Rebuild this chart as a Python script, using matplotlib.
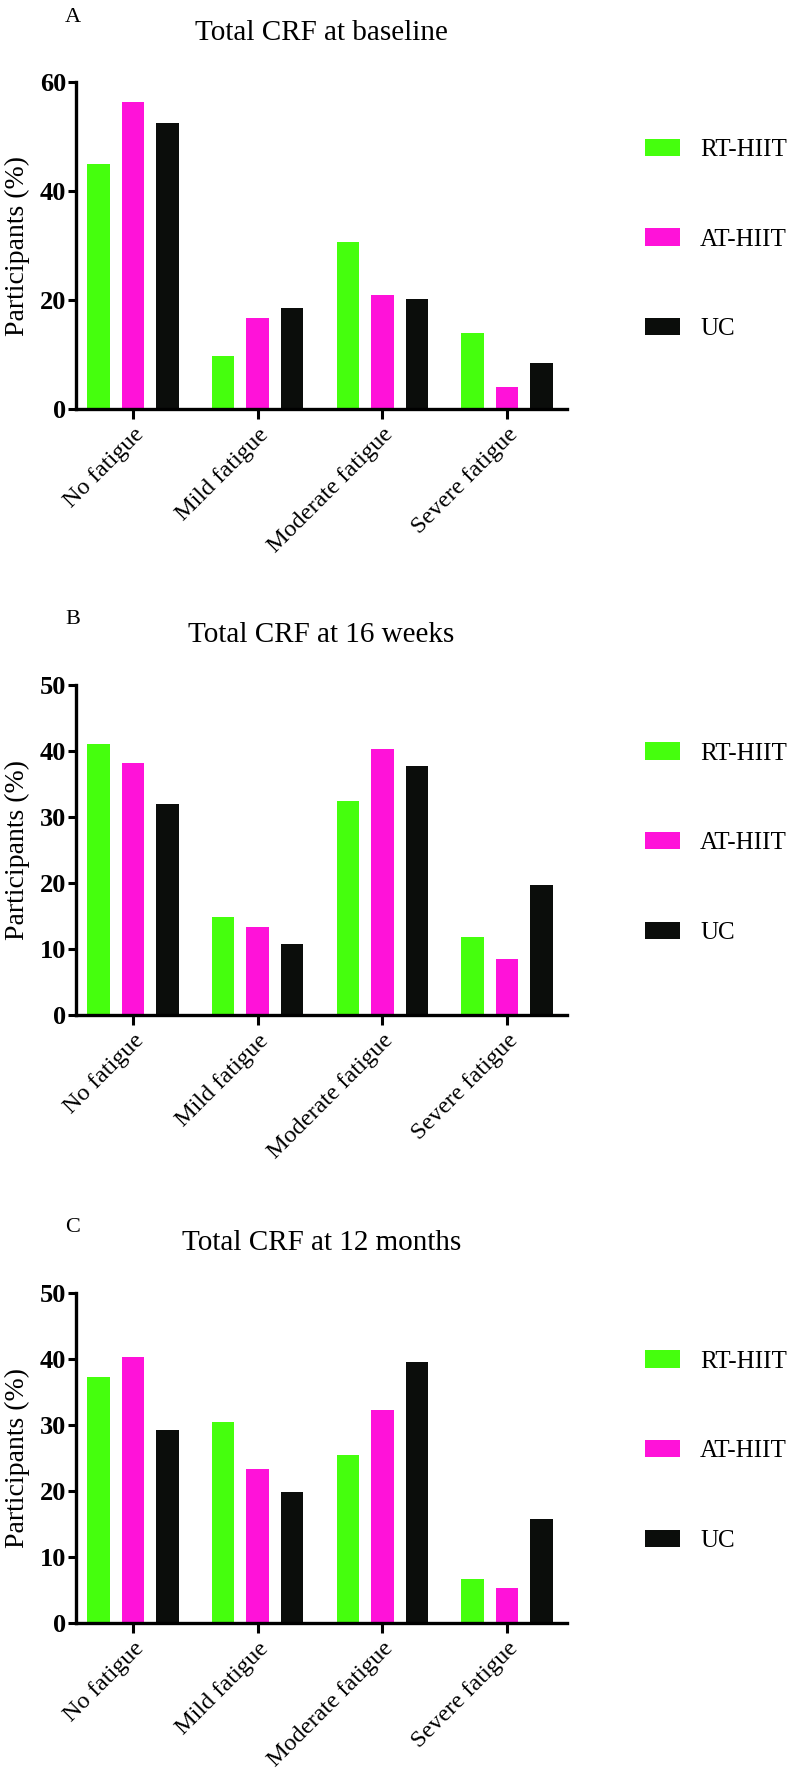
import matplotlib
matplotlib.use("Agg")
import matplotlib.pyplot as plt
import numpy as np

categories = ["No fatigue", "Mild fatigue", "Moderate fatigue", "Severe fatigue"]
groups = ["RT-HIIT", "AT-HIIT", "UC"]

baseline_rt = [45.0, 9.7, 30.7, 13.9]
baseline_at = [56.4, 16.7, 21.0, 4.1]
baseline_uc = [52.4, 18.6, 20.2, 8.4]

wk16_rt = [41.1, 14.8, 32.5, 11.8]
wk16_at = [38.2, 13.4, 40.3, 8.5]
wk16_uc = [32.0, 10.7, 37.7, 19.7]

mo12_rt = [37.2, 30.5, 25.5, 6.7]
mo12_at = [40.3, 23.3, 32.2, 5.3]
mo12_uc = [29.3, 19.9, 39.6, 15.8]

titles = ["Total CRF at baseline", "Total CRF at 16 weeks", "Total CRF at 12 months"]
letters = ["A", "B", "C"]
ymax = [60, 50, 50]
yticks = [[0, 20, 40, 60], [0, 10, 20, 30, 40, 50], [0, 10, 20, 30, 40, 50]]

colors = ["#45FF0D", "#FF12D9", "#0B0D0B"]

panels = [
    (baseline_rt, baseline_at, baseline_uc),
    (wk16_rt, wk16_at, wk16_uc),
    (mo12_rt, mo12_at, mo12_uc),
]

plt.rcParams['font.family'] = ['Liberation Serif', 'DejaVu Serif']

W, H = 799, 1777
fig = plt.figure(figsize=(W / 100, H / 100), dpi=100)

# axes geometry in pixels: (left, top, right, bottom)
ax_left, ax_right = 76, 567
tops = [82, 685, 1293]
bottoms = [409, 1015, 1623]

x = np.arange(len(categories))
bw = 0.18
off = 0.277

for i, (series, title, letter) in enumerate(zip(panels, titles, letters)):
    t, b = tops[i], bottoms[i]
    ax = fig.add_axes([ax_left / W, (H - b) / H, (ax_right - ax_left) / W, (b - t) / H])
    handles = []
    for j, (vals, col, name) in enumerate(zip(series, colors, groups)):
        h = ax.bar(x + (j - 1) * off, vals, width=bw, color=col, label=name, linewidth=0)
        handles.append(h)
    ax.set_xlim(-0.457, 3.48)
    ax.set_ylim(0, ymax[i])
    ax.set_yticks(yticks[i])
    ax.set_xticks(x)
    ax.set_xticklabels(categories, rotation=45, ha='right', rotation_mode='anchor', fontsize=17.5)
    for lab in ax.get_yticklabels():
        lab.set_fontweight('bold')
        lab.set_fontsize(19)
    ax.spines['top'].set_visible(False)
    ax.spines['right'].set_visible(False)
    ax.spines['left'].set_linewidth(2.4)
    ax.spines['bottom'].set_linewidth(2.4)
    ax.tick_params(axis='y', length=6, width=2.2, pad=1)
    ax.tick_params(axis='x', length=7, width=2.2, pad=4)
    ax.set_ylabel("Participants (%)", fontsize=20)
    ax.yaxis.set_label_coords(-0.094, 0.5)
    ax.text(0.5, 1.15, title, transform=ax.transAxes, ha='center', va='center', fontsize=21)
    ax.text(-0.006, 1.198, letter, transform=ax.transAxes, ha='center', va='center', fontsize=16)
    ax.legend(handles=handles, loc='upper left', bbox_to_anchor=(1.159, 0.826),
              frameon=False, fontsize=18, handlelength=1.4, handleheight=0.68,
              handletextpad=0.8, labelspacing=2.69, borderpad=0, borderaxespad=0)

fig.savefig("out.png", dpi=100)
